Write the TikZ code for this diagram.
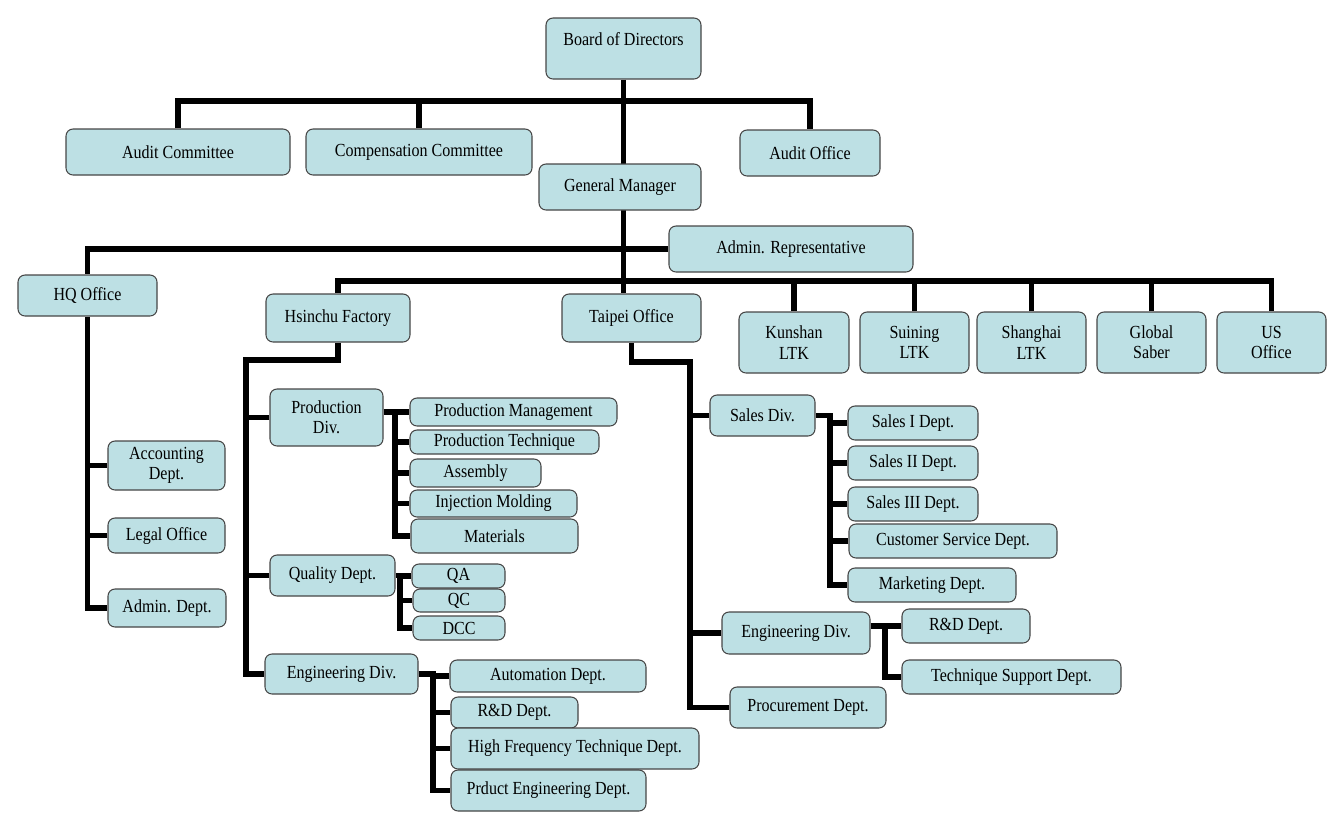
\documentclass[tikz,border=0pt]{standalone}
\usepackage{fontspec}
\setmainfont[FakeStretch=0.87]{Liberation Serif}
\usetikzlibrary{backgrounds}
\definecolor{boxfill}{RGB}{189,224,228}
\definecolor{boxline}{RGB}{70,70,70}
\tikzset{
  box/.style 2 args={draw=boxline, fill=boxfill, line width=0.6pt, rounded corners=4pt,
    minimum width=#1*0.02cm, minimum height=#2*0.02cm, inner sep=1pt,
    align=center, font=\fontsize{10.5}{11.5}\selectfont},
  link/.style={line width=2.9pt}
}
\begin{document}
\begin{tikzpicture}[x=0.02cm, y=-0.02cm]
  \useasboundingbox (0,0) rectangle (1336,823);

  % Top level
  \node[box={155}{61}, text depth=20*0.02cm] (board) at (623.5,48.5) {Board of Directors};
  \node[box={224}{46}] (auditc) at (178,152) {Audit Committee};
  \node[box={226}{46}] (compc) at (419,152) {Compensation Committee};
  \node[box={140}{46}] (auditoff) at (810,153) {Audit Office};
  \node[box={162}{46}] (gm) at (620,187) {General Manager};
  \node[box={244}{46}] (adminrep) at (791,249) {Admin. Representative};

  % Offices and subsidiaries
  \node[box={139}{41}] (hq) at (87.5,295.5) {HQ Office};
  \node[box={144}{48}] (hsinchu) at (338,318) {Hsinchu Factory};
  \node[box={139}{48}] (taipei) at (631.5,318) {Taipei Office};
  \node[box={110}{61}] (kunshan) at (794,342.5) {Kunshan\\LTK};
  \node[box={109}{61}] (suining) at (914.5,342.5) {Suining\\LTK};
  \node[box={109}{61}] (shanghai) at (1031.5,342.5) {Shanghai\\LTK};
  \node[box={109}{61}] (global) at (1151.5,342.5) {Global\\Saber};
  \node[box={109}{61}] (usoff) at (1271.5,342.5) {US\\Office};

  % HQ Office
  \node[box={117}{49}] (acct) at (166.5,465.5) {Accounting\\Dept.};
  \node[box={117}{35}] (legal) at (166.5,535.5) {Legal Office};
  \node[box={118}{38}] (admind) at (167,608) {Admin. Dept.};

  % Hsinchu Factory
  \node[box={113}{57}] (prod) at (326.5,417.5) {Production\\Div.};
  \node[box={125}{41}] (quality) at (332.5,575.5) {Quality Dept.};
  \node[box={153}{40}] (engh) at (341.5,674) {Engineering Div.};

  \node[box={207}{28}] (pm) at (513.5,412) {Production Management};
  \node[box={189}{24}] (pt) at (504.5,442) {Production Technique};
  \node[box={131}{28}] (asm) at (475.5,473) {Assembly};
  \node[box={167}{27}] (inj) at (493.5,503.5) {Injection Molding};
  \node[box={167}{34}] (mat) at (494.5,536) {Materials};

  \node[box={93}{24}] (qa) at (458.5,576) {QA};
  \node[box={92}{23}] (qc) at (459,600.5) {QC};
  \node[box={92}{24}] (dcc) at (459,628) {DCC};

  \node[box={196}{32}] (auto) at (548,676) {Automation Dept.};
  \node[box={127}{31}] (rdh) at (514.5,712.5) {R\&D Dept.};
  \node[box={248}{41}] (hft) at (575,748.5) {High Frequency Technique Dept.};
  \node[box={195}{41}] (ped) at (548.5,790.5) {Prduct Engineering Dept.};

  % Taipei Office
  \node[box={105}{41}] (sales) at (762.5,415.5) {Sales Div.};
  \node[box={148}{42}] (engt) at (796,633) {Engineering Div.};
  \node[box={156}{41}] (proc) at (808,707.5) {Procurement Dept.};

  \node[box={130}{34}] (s1) at (913,423) {Sales I Dept.};
  \node[box={130}{34}] (s2) at (913,463) {Sales II Dept.};
  \node[box={130}{34}] (s3) at (913,504) {Sales III Dept.};
  \node[box={208}{34}] (cs) at (953,541) {Customer Service Dept.};
  \node[box={168}{34}] (mkt) at (932,585) {Marketing Dept.};

  \node[box={128}{34}] (rdt) at (966,626) {R\&D Dept.};
  \node[box={219}{34}] (tsd) at (1011.5,677) {Technique Support Dept.};

  % Connectors
  \coordinate (bar1) at (0,101);
  \coordinate (bar2) at (0,281);
  \coordinate (hsx) at (246,360);
  \coordinate (pvx) at (395,0);
  \coordinate (qvx) at (400,0);
  \coordinate (evx) at (433,0);
  \coordinate (tpx) at (690,362);
  \coordinate (svx) at (830,0);
  \coordinate (etx) at (885,0);
  \begin{scope}[on background layer]
    \draw[link] (board.south) -- (board.south |- taipei.north);
    \draw[link] (auditc.north) |- (auditoff.north |- bar1) -- (auditoff.north);
    \draw[link] (compc.north) -- (compc.north |- bar1);
    \draw[link] (adminrep.west) -| (hq.north);
    \draw[link] (hsinchu.north) |- (usoff.north |- bar2) -- (usoff.north);
    \foreach \n in {kunshan,suining,shanghai,global}
      \draw[link] (\n.north) -- (\n.north |- bar2);

    % HQ Office
    \draw[link] (hq.south) |- (admind.west);
    \foreach \n in {acct,legal}
      \draw[link] (\n.west) -- (\n.west -| hq.south);

    % Hsinchu Factory
    \draw[link] (hsinchu.south) |- (hsx) |- (engh.west);
    \foreach \n in {prod,quality}
      \draw[link] (\n.west) -- (\n.west -| hsx);
    \draw[link] (prod.east |- pm.west) -- (pm.west);
    \draw[link] (pvx |- pm.west) |- (mat.west);
    \foreach \n in {pt,asm,inj}
      \draw[link] (\n.west) -- (\n.west -| pvx);
    \draw[link] (quality.east) -| (qvx |- dcc.west) -- (dcc.west);
    \foreach \n in {qa,qc}
      \draw[link] (\n.west) -- (\n.west -| qvx);
    \draw[link] (engh.east) -| (evx |- ped.west) -- (ped.west);
    \foreach \n in {auto,rdh,hft}
      \draw[link] (\n.west) -- (\n.west -| evx);

    % Taipei Office
    \draw[link] (taipei.south) |- (tpx) |- (proc.west);
    \foreach \n in {sales,engt}
      \draw[link] (\n.west) -- (\n.west -| tpx);
    \draw[link] (sales.east) -| (svx |- mkt.west) -- (mkt.west);
    \foreach \n in {s1,s2,s3,cs}
      \draw[link] (\n.west) -- (\n.west -| svx);
    \draw[link] (engt.east |- rdt.west) -- (rdt.west);
    \draw[link] (etx |- rdt.west) |- (tsd.west);
  \end{scope}
\end{tikzpicture}
\end{document}
